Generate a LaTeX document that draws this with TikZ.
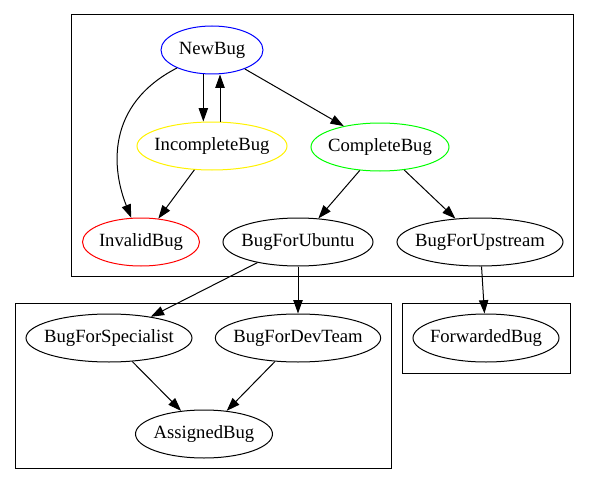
\documentclass[tikz,border=0pt]{standalone}
\usepackage{fontspec}
\setmainfont{Liberation Serif}
\usetikzlibrary{arrows.meta,shapes.geometric}
\tikzset{
  bugstate/.style={draw, ellipse, line width=0.75pt, inner sep=0pt, minimum height=36pt, font=\fontsize{14}{16}\selectfont},
  bugflow/.style={line width=0.75pt, -{Triangle[length=10pt,width=7pt]}},
  cluster/.style={draw, line width=0.75pt}
}
\newcommand{\bugname}[1]{\makebox[0pt]{#1}}
\begin{document}
\begin{tikzpicture}[x=0.75pt, y=-0.75pt]
            \useasboundingbox (0,0) rectangle (589,485);
            \draw[cluster] (71.5,15) rectangle (573,276.5);
            \draw[cluster] (15.5,303) rectangle (391,468.5);
            \draw[cluster] (402,303) rectangle (570,373);
            \node[bugstate, blue, text=black, minimum width=76.5pt] (newbug) at (212,50) {\bugname{NewBug}};
            \node[bugstate, yellow, text=black, minimum width=112.5pt] (incompletebug) at (212,146) {\bugname{IncompleteBug}};
            \node[bugstate, green, text=black, minimum width=103.5pt] (completebug) at (380,147) {\bugname{CompleteBug}};
            \node[bugstate, red, text=black, minimum width=87.75pt] (invalidbug) at (141,242) {\bugname{InvalidBug}};
            \node[bugstate, minimum width=112.5pt] (bugforubuntu) at (298,242) {\bugname{BugForUbuntu}};
            \node[bugstate, minimum width=124.5pt] (bugforupstream) at (480,242) {\bugname{BugForUpstream}};
            \node[bugstate, minimum width=124.5pt] (bugforspecialist) at (109,338) {\bugname{BugForSpecialist}};
            \node[bugstate, minimum width=124pt] (bugfordevteam) at (298,338) {\bugname{BugForDevTeam}};
            \node[bugstate, minimum width=102.75pt] (assignedbug) at (204,434) {\bugname{AssignedBug}};
            \node[bugstate, minimum width=109.5pt] (forwardedbug) at (486,338) {\bugname{ForwardedBug}};
            \draw[bugflow] (newbug) .. controls (105,105) and (112,170) .. (invalidbug);
            \draw[bugflow] ([xshift=-6.5pt]newbug.south) -- ([xshift=-6.5pt]incompletebug.north);
            \draw[bugflow] ([xshift=6pt]incompletebug.north) -- ([xshift=6pt]newbug.south);
            \draw[bugflow] (newbug) -- (completebug);
            \draw[bugflow] (incompletebug) -- (invalidbug);
            \draw[bugflow] (completebug) -- (bugforubuntu);
            \draw[bugflow] (completebug) -- (bugforupstream);
            \draw[bugflow] (bugforubuntu) -- (bugforspecialist);
            \draw[bugflow] (bugforubuntu) -- (bugfordevteam);
            \draw[bugflow] (bugforupstream) -- (forwardedbug);
            \draw[bugflow] (bugforspecialist) -- (assignedbug);
            \draw[bugflow] (bugfordevteam) -- (assignedbug);
\end{tikzpicture}
\end{document}
